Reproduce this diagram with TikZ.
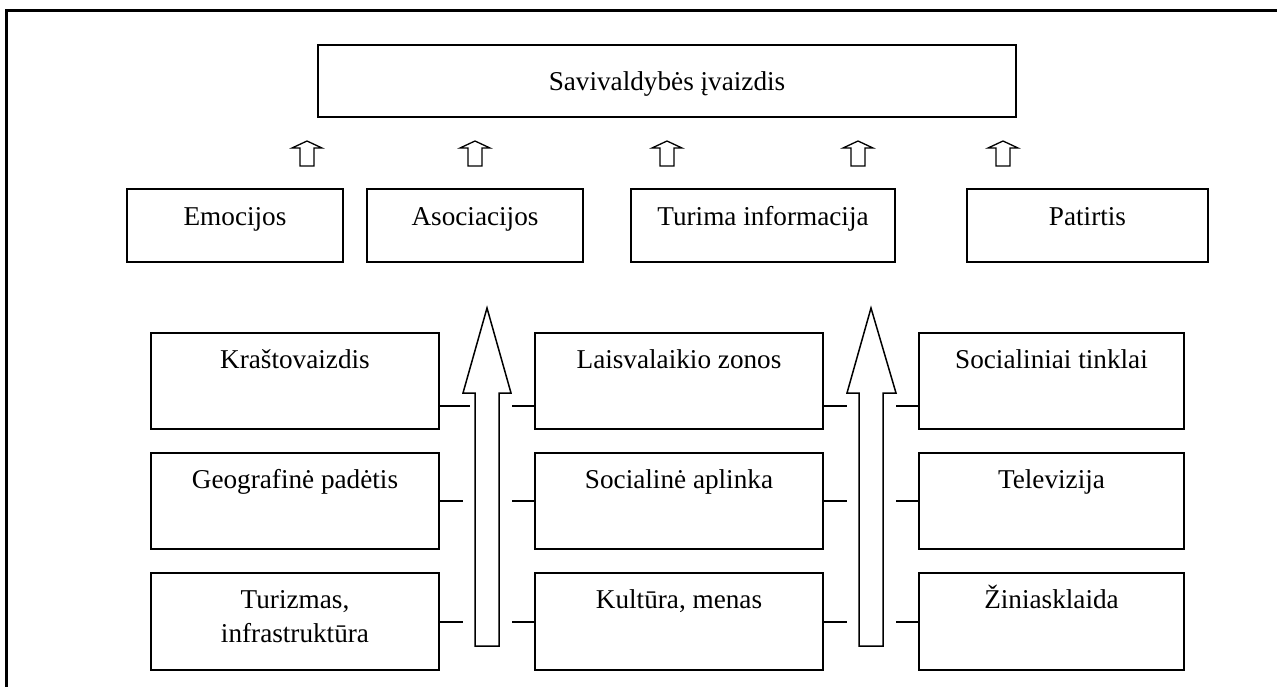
\documentclass[tikz,border=0pt]{standalone}
\usepackage{fontspec}
\setmainfont{Liberation Serif}
\begin{document}
\begin{tikzpicture}[x=1pt,y=-1pt,
  box/.style={draw, line width=1.5pt, rectangle, inner sep=0pt},
  lbl/.style={anchor=base, inner sep=0pt, font=\fontsize{27.2}{34}\selectfont, align=center},
  link/.style={draw, line width=1.5pt},
  bigarrow/.style={draw, line width=1.5pt, line join=miter},
  smallarrow/.style={draw, line width=1.3pt, line join=miter}]
\useasboundingbox (0,0) rectangle (1277,686);

% outer frame (left and top edges)
\draw[line width=2.2pt] (6.5,700) -- (6.5,10.5) -- (1290,10.5);

% top box
\node[box, minimum width=698pt, minimum height=72pt] (img) at (667,81) {};
\node[lbl] (imgt) at (667,90) {Savivaldybės įvaizdis};

% small up arrows
\foreach \n/\cx in {a1/307, a2/475, a3/667, a4/858, a5/1003}{
  \coordinate (\n) at (\cx,153.5);
  \draw[smallarrow] ([shift={(0,-12.5)}]\n) -- ([shift={(15,-5.5)}]\n) -- ([shift={(7,-5.5)}]\n)
    -- ([shift={(7,12.5)}]\n) -- ([shift={(-7,12.5)}]\n) -- ([shift={(-7,-5.5)}]\n)
    -- ([shift={(-15,-5.5)}]\n) -- cycle;
}

% second row
\node[box, minimum width=216pt, minimum height=73pt] (emo) at (235,225.5) {};
\node[lbl] at (235,225) {Emocijos};
\node[box, minimum width=216pt, minimum height=73pt] (aso) at (475,225.5) {};
\node[lbl] at (475,225) {Asociacijos};
\node[box, minimum width=264pt, minimum height=73pt] (inf) at (763,225.5) {};
\node[lbl] at (763,225) {Turima informacija};
\node[box, minimum width=241pt, minimum height=73pt] (pat) at (1087.5,225.5) {};
\node[lbl] at (1087.5,225) {Patirtis};

% factor boxes, left column
\node[box, minimum width=288pt, minimum height=96pt] (kra) at (295,381) {};
\node[lbl] at (295,368) {Kraštovaizdis};
\node[box, minimum width=288pt, minimum height=96pt] (geo) at (295,501) {};
\node[lbl] at (295,488) {Geografinė padėtis};
\node[box, minimum width=288pt, minimum height=97pt] (tur) at (295,621.5) {};
\node[lbl] at (295,642) {Turizmas,\\infrastruktūra};

% factor boxes, middle column
\node[box, minimum width=288pt, minimum height=96pt] (lai) at (679,381) {};
\node[lbl] at (679,368) {Laisvalaikio zonos};
\node[box, minimum width=288pt, minimum height=96pt] (soc) at (679,501) {};
\node[lbl] at (679,488) {Socialinė aplinka};
\node[box, minimum width=288pt, minimum height=97pt] (kul) at (679,621.5) {};
\node[lbl] at (679,608) {Kultūra, menas};

% factor boxes, right column
\node[box, minimum width=265pt, minimum height=96pt] (tin) at (1051.5,381) {};
\node[lbl] at (1051.5,368) {Socialiniai tinklai};
\node[box, minimum width=265pt, minimum height=96pt] (tel) at (1051.5,501) {};
\node[lbl] at (1051.5,488) {Televizija};
\node[box, minimum width=265pt, minimum height=97pt] (zin) at (1051.5,621.5) {};
\node[lbl] at (1051.5,608) {Žiniasklaida};

% large up arrows
\draw[bigarrow] (487,308) -- (511,393) -- (499,393) -- (499,646) -- (475,646)
  -- (475,393) -- (463,393) -- cycle;
\draw[bigarrow] (871,308) -- (896,393) -- (883,393) -- (883,646) -- (859,646)
  -- (859,393) -- (847,393) -- cycle;

% connector ends beside the large arrows
\coordinate (l1) at (470,406);   \coordinate (r1) at (512,406);
\coordinate (l2) at (463,501);   \coordinate (r2) at (512,501);
\coordinate (l3) at (463,622);   \coordinate (r3) at (512,622);
\coordinate (m1) at (847,406);   \coordinate (s1) at (896,406);
\coordinate (m2) at (847,501);   \coordinate (s2) at (896,501);
\coordinate (m3) at (847,622);   \coordinate (s3) at (896,622);

\path[link] (kra.east |- l1) -- (l1);  \path[link] (r1) -- (lai.west |- r1);
\path[link] (geo.east |- l2) -- (l2);  \path[link] (r2) -- (soc.west |- r2);
\path[link] (tur.east |- l3) -- (l3);  \path[link] (r3) -- (kul.west |- r3);
\path[link] (lai.east |- m1) -- (m1);  \path[link] (s1) -- (tin.west |- s1);
\path[link] (soc.east |- m2) -- (m2);  \path[link] (s2) -- (tel.west |- s2);
\path[link] (kul.east |- m3) -- (m3);  \path[link] (s3) -- (zin.west |- s3);
\end{tikzpicture}
\end{document}
